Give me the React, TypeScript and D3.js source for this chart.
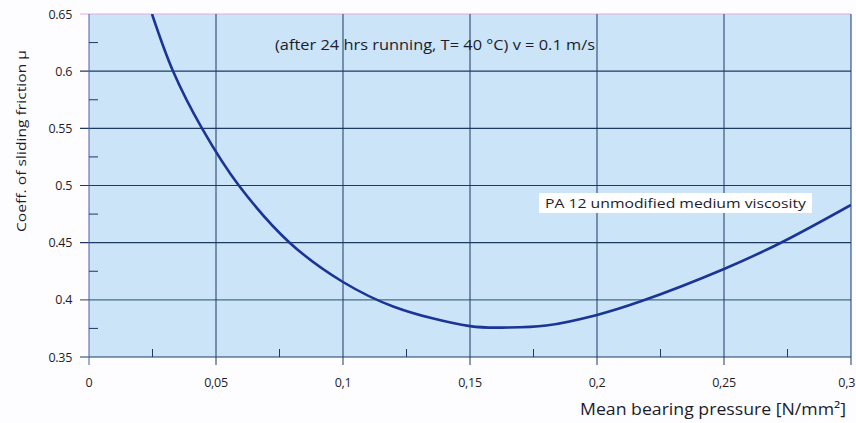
import React from "react";
import * as d3 from "d3";

const pressure = [0.0248, 0.0331, 0.0445, 0.059, 0.079, 0.1, 0.12, 0.15, 0.165, 0.18, 0.2, 0.217, 0.25, 0.272, 0.3];
const friction = [0.65, 0.6, 0.55, 0.5, 0.45, 0.4156, 0.394, 0.377, 0.3758, 0.3775, 0.3868, 0.3985, 0.427, 0.4495, 0.483];
const xTicks = [0, 0.05, 0.1, 0.15, 0.2, 0.25, 0.3];
const xTickLabels = ["0", "0,05", "0,1", "0,15", "0,2", "0,25", "0,3"];
const xMinor = [0.025, 0.075, 0.125, 0.175, 0.225, 0.275];
const yTicks = [0.35, 0.4, 0.45, 0.5, 0.55, 0.6, 0.65];
const yTickLabels = ["0.35", "0.4", "0.45", "0.5", "0.55", "0.6", "0.65"];
const yMinor = [0.375, 0.425, 0.475, 0.525, 0.575, 0.625];
const conditionNote = "(after 24 hrs running, T= 40 °C) v = 0.1 m/s";
const seriesLabel = "PA 12 unmodified medium viscosity";
const xTitle = "Mean bearing pressure [N/mm²]";
const yTitle = "Coeff. of sliding friction μ";

const W = 856, H = 423;
const L = 89, R = 851, T = 14, B = 357;
const FONT = "'Open Sans', 'Noto Sans', sans-serif";

export default function App() {
  const x = d3.scaleLinear().domain([0, 0.3]).range([L, R]);
  const y = d3.scaleLinear().domain([0.35, 0.65]).range([B, T]);
  const pts = pressure.map((p, i) => [p, friction[i]] as [number, number]);
  const line = d3.line<[number, number]>().x(d => x(d[0])).y(d => y(d[1])).curve(d3.curveCatmullRom.alpha(0.5));
  const gridColor = "#1d3a62";
  const textColor = "#1c1c2c";
  return (
    <svg width={W} height={H} style={{ position: "absolute", left: 0, top: 0, background: "#fdfcfe" }}>
      <defs>
        <clipPath id="plot"><rect x={L} y={T} width={R - L} height={B - T} /></clipPath>
      </defs>
      <rect x={L} y={T} width={R - L} height={B - T} fill="#cbe4f8" />
      {yTicks.map((t, i) => (
        <line key={"hy" + i} x1={80} x2={R} y1={y(t)} y2={y(t)}
          stroke={t === 0.65 ? "#e7a9dc" : t === 0.4 ? "#4b6c80" : gridColor} strokeWidth={1.2} />
      ))}
      {xTicks.map((t, i) => (
        <line key={"vx" + i} x1={x(t)} x2={x(t)} y1={T} y2={B + 8}
          stroke={i === 0 ? "#4a5ea8" : gridColor} strokeWidth={1} />
      ))}
      {yMinor.map((t, i) => (
        <line key={"my" + i} x1={L} x2={L + 9} y1={y(t)} y2={y(t)} stroke={gridColor} strokeWidth={1} />
      ))}
      {xMinor.map((t, i) => (
        <line key={"mx" + i} x1={x(t)} x2={x(t)} y1={B} y2={B - 8} stroke={gridColor} strokeWidth={1} />
      ))}
      <path d={line(pts) || ""} fill="none" stroke="#1a3596" strokeWidth={2.6} clipPath="url(#plot)" />
      {yTicks.map((t, i) => (
        <text key={"ly" + i} x={72} y={y(t)} dy="0.36em" textAnchor="end" fontFamily={FONT} fontSize={12.5}
          letterSpacing={-0.3} fill={textColor}>
          {yTickLabels[i]}
        </text>
      ))}
      {xTicks.map((t, i) => (
        <text key={"lx" + i} x={i === xTicks.length - 1 ? 855 : x(t)} y={387}
          textAnchor={i === xTicks.length - 1 ? "end" : "middle"} fontFamily={FONT} fontSize={12.5}
          letterSpacing={-0.3} fill={textColor}>
          {xTickLabels[i]}
        </text>
      ))}
      <text x={275} y={50} fontFamily={FONT} fontSize={14} textLength={320} lengthAdjust="spacingAndGlyphs" fill={textColor}>
        {conditionNote}
      </text>
      <rect x={539} y={193} width={273} height={20} fill="#ffffff" />
      <text x={545} y={208} fontFamily={FONT} fontSize={13.5} textLength={261} lengthAdjust="spacingAndGlyphs" fill={textColor}>
        {seriesLabel}
      </text>
      <text x={580} y={415} fontFamily={FONT} fontSize={16} textLength={266} lengthAdjust="spacingAndGlyphs" fill={textColor}>
        {xTitle}
      </text>
      <text x={0} y={0} transform="translate(26,232) rotate(-90)" fontFamily={FONT} fontSize={12.5}
        textLength={182} lengthAdjust="spacingAndGlyphs" fill={textColor}>
        {yTitle}
      </text>
    </svg>
  );
}
